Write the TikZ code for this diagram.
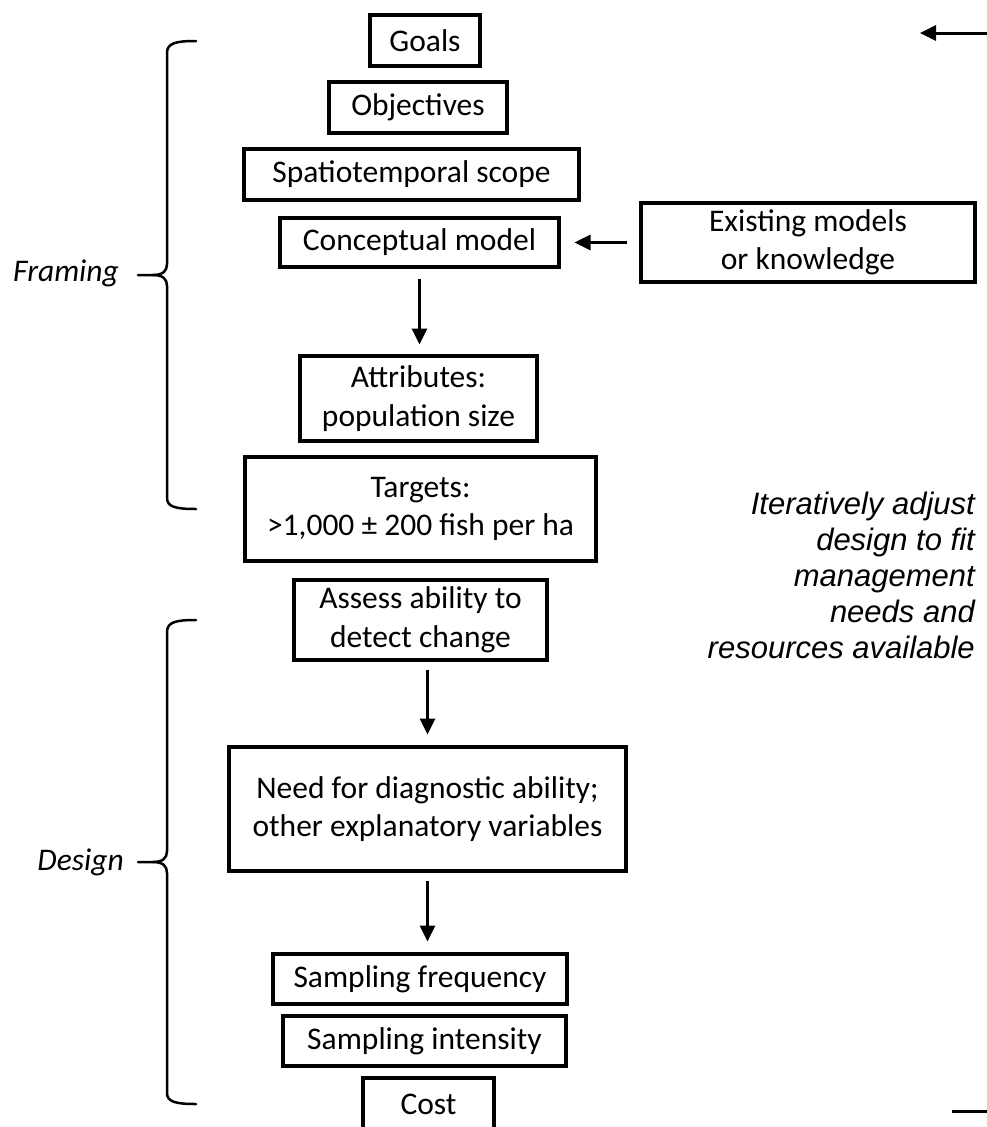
\documentclass[tikz,border=0pt]{standalone}
\usepackage{fontspec}
\setmainfont{Carlito}
\newfontfamily\sidefont{Liberation Sans}
\usetikzlibrary{arrows.meta}
\begin{document}
\begin{tikzpicture}[x=1pt,y=-1pt,
  box/.style={draw,line width=4pt,inner sep=0pt,align=center,
    font=\fontsize{31.5}{38.5}\selectfont},
  arr/.style={line width=3pt,-{Triangle[length=16pt,width=15pt]}},
  brace/.style={line width=2.5pt,line cap=round,line join=round},
  phase/.style={inner sep=0pt,anchor=east,font=\fontsize{31.5}{38}\selectfont\itshape},
  note/.style={inner sep=0pt,anchor=east,align=right,
    font=\sidefont\itshape\fontsize{31}{36}\selectfont}]
\useasboundingbox (0,0) rectangle (987,1127);

% boxes
\node[box,minimum width=110pt,minimum height=51pt] (goals) at (425,40.5) {Goals};
\node[box,minimum width=178pt,minimum height=51pt] (obj) at (418,107.5) {Objectives};
\node[box,minimum width=335pt,minimum height=51pt] (scope) at (411.5,174.5) {Spatiotemporal scope};
\node[box,minimum width=279pt,minimum height=49pt] (cm) at (419.5,242.5) {Conceptual model};
\node[box,minimum width=334pt,minimum height=79pt] (exist) at (808,242.5) {Existing models\\or knowledge};
\node[box,minimum width=237pt,minimum height=85pt] (attr) at (418.5,398.5) {Attributes:\\population size};
\node[box,minimum width=351pt,minimum height=104pt] (targ) at (420.5,509) {Targets:\\>1,000 ± 200 fish per ha};
\node[box,minimum width=253pt,minimum height=80pt] (assess) at (420.5,620) {Assess ability to\\detect change};
\node[box,minimum width=397pt,minimum height=124pt] (need) at (427.5,809) {Need for diagnostic ability;\\other explanatory variables};
\node[box,minimum width=294pt,minimum height=50pt] (sfreq) at (420,979) {Sampling frequency};
\node[box,minimum width=283pt,minimum height=50pt] (sint) at (424.5,1041) {Sampling intensity};
\node[box,minimum width=131pt,minimum height=52pt] (cost) at (428.5,1104) {Cost};

% connectors
\draw[arr,shorten <=10pt,shorten >=9.5pt] (cm.south) -- (cm.south |- attr.north);
\draw[arr,shorten <=12.5pt,shorten >=13.5pt] (exist.west) -- (exist.west -| cm.east);
\draw[arr,shorten <=7.5pt,shorten >=10.5pt] (need.north |- assess.south) -- (need.north);
\draw[arr,shorten <=7.5pt,shorten >=10.5pt] (need.south) -- (need.south |- sfreq.north);

% loop ends (off-page feedback path)
\coordinate (loopin) at (990,33);
\coordinate (looptip) at (920,33);
\draw[arr] (loopin) -- (looptip);
\coordinate (loopout1) at (952,1111);
\coordinate (loopout2) at (990,1111);
\draw[line width=3pt] (loopout1) -- (loopout2);

% side note
\node[note] (iter) at (975,575) {Iteratively adjust\\design to fit\\management\\needs and\\resources available};

% phase labels
\node[phase] (framing) at (119,273) {Framing};
\node[phase] (design) at (124,862) {Design};

% braces
\draw[brace] (196,41) .. controls (176,41) and (167,43) .. (167,53) -- (167,264)
  .. controls (167,271) and (163,275) .. (153,275) -- (138,275);
\draw[brace] (153,275) .. controls (163,275) and (167,279) .. (167,286) -- (167,498)
  .. controls (167,507) and (176,509) .. (196,509);
\draw[brace] (196,620) .. controls (176,620) and (167,622) .. (167,632) -- (167,851)
  .. controls (167,858) and (163,862) .. (153,862) -- (138,862);
\draw[brace] (153,862) .. controls (163,862) and (167,866) .. (167,873) -- (167,1093)
  .. controls (167,1102) and (176,1104) .. (196,1104);
\end{tikzpicture}
\end{document}
